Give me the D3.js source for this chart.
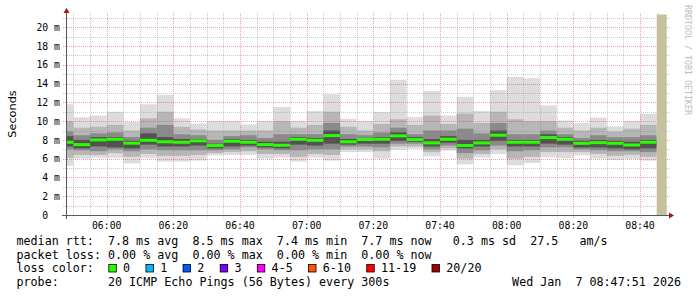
<!DOCTYPE html>
<html><head><meta charset="utf-8">
<script src="https://cdn.jsdelivr.net/npm/d3@7"></script>
<style>body{margin:0;background:#fff}svg{display:block}</style>
</head><body>
<svg id="c" width="697" height="297"></svg>
<script>
// ---- data ----
const barStart = ["05:45","05:50","05:55","06:00","06:05","06:10","06:15","06:20","06:25","06:30","06:35","06:40",
  "06:45","06:50","06:55","07:00","07:05","07:10","07:15","07:20","07:25","07:30","07:35","07:40",
  "07:45","07:50","07:55","08:00","08:05","08:10","08:15","08:20","08:25","08:30","08:35","08:40"];
const median = [7.75,7.5,8.0,8.07,7.65,7.96,7.8,7.75,7.9,7.4,7.86,7.75,7.5,7.43,8.07,7.96,8.46,7.8,8.04,8.07,8.43,8.04,7.68,8.07,7.4,7.68,8.5,7.75,7.75,8.25,8.07,7.64,7.71,7.64,7.46,7.75];
const pingMax = [11.8,10.4,10.6,11.0,9.9,11.8,12.8,10.3,9.75,10.0,10.0,9.65,10.0,11.5,10.0,11.07,12.86,10.25,10.0,10.96,14.4,10.43,13.2,10.6,12.6,11.07,13.3,14.7,14.57,11.68,10.07,9.8,10.36,9.46,10.0,10.8];
const pingMin = [5.25,6.0,6.1,6.1,5.5,6.1,5.7,5.7,5.8,6.35,6.4,6.4,6.0,6.14,5.7,6.14,5.79,6.7,6.7,6.0,6.96,7.07,6.25,6.86,5.4,6.14,6.5,5.3,5.54,6.14,6.07,6.36,6.0,5.86,5.96,5.79];
const q2Hi = [10.0,9.3,9.4,9.6,9.0,10.3,11.0,9.4,9.1,9.0,9.0,9.0,9.0,10.0,9.3,9.6,11.0,9.4,9.0,9.7,10.2,9.6,10.6,9.7,10.8,9.8,11.0,10.2,10.0,10.0,9.3,9.0,9.3,8.9,9.2,9.6];
const q2Lo = [6.1,6.4,6.4,6.6,6.2,6.5,6.3,6.3,6.4,6.6,6.7,6.8,6.5,6.5,6.2,6.5,6.4,7.0,7.0,6.8,7.3,7.3,6.7,7.1,6.0,6.5,7.0,6.0,6.2,6.7,6.7,6.7,6.5,6.3,6.4,6.2];
const q3Hi = [8.9,8.5,8.7,8.8,8.3,9.3,9.6,8.6,8.5,8.0,8.4,8.5,8.2,8.6,8.6,8.6,9.8,8.6,8.5,8.8,9.3,8.6,9.0,9.0,9.2,8.7,9.8,8.6,8.6,9.0,8.6,8.2,8.5,8.3,8.3,8.5];
const q3Lo = [7.0,6.9,6.8,7.0,6.8,7.0,6.9,6.9,6.9,6.9,7.0,7.2,7.0,6.9,6.9,7.0,7.0,7.3,7.3,7.2,7.6,7.6,7.0,7.4,6.6,6.9,7.4,6.8,6.9,7.2,7.2,7.0,6.9,6.8,6.8,6.7];
const coreHi = [8.4,8.0,8.3,8.3,7.9,8.7,8.3,8.1,8.1,7.6,8.1,8.0,7.8,7.8,8.3,8.2,9.0,8.1,8.2,8.3,8.8,8.3,8.1,8.4,8.0,8.0,9.0,8.0,8.0,8.6,8.3,7.9,8.0,7.9,7.8,8.0];
const coreLo = [7.3,7.1,7.3,7.2,7.1,7.5,7.3,7.3,7.4,7.1,7.3,7.4,7.2,7.1,7.5,7.4,7.6,7.5,7.6,7.6,7.9,7.8,7.3,7.7,7.1,7.3,7.9,7.3,7.3,7.6,7.5,7.2,7.2,7.1,7.0,7.1];
const stepMinutes = 5;
const viewStart = "05:48", viewEnd = "08:48", unknownStart = "08:45";
const xTickLabels = ["06:00","06:20","06:40","07:00","07:20","07:40","08:00","08:20","08:40"];
const yTickValues = [0,2,4,6,8,10,12,14,16,18,20];
const yTickLabels = ["0  ","2 m","4 m","6 m","8 m","10 m","12 m","14 m","16 m","18 m","20 m"];
const legendLines = [
  "median rtt:  7.8 ms avg  8.5 ms max  7.4 ms min  7.7 ms now   0.3 ms sd  27.5   am/s",
  "packet loss: 0.00 % avg  0.00 % max  0.00 % min  0.00 % now",
  "loss color:",
  "probe:       20 ICMP Echo Pings (56 Bytes) every 300s"
];
const lossLabels = ["0","1","2","3","4-5","6-10","11-19","20/20"];
const lossColors = ["#26ff00","#00b8ff","#0059ff","#7e00ff","#ff00ff","#ff5500","#ff0000","#a10000"];
const timestamp = "Wed Jan  7 08:47:51 2026";

// ---- drawing ----
const svg = d3.select("#c");
const T = s => { const [h,m] = s.split(":").map(Number); return new Date(Date.UTC(2026,0,7,h,m)); };
const x = d3.scaleUtc().domain([T(viewStart), T(viewEnd)]).range([66.7, 666.7]);
const y = d3.scaleLinear().domain([0, 21.5]).range([215, 13.2]);
const mono = "'DejaVu Sans Mono', monospace";

const bars = barStart.map((s,i) => {
  const t0 = T(s), t1 = new Date(+t0 + stepMinutes*60000);
  return {x0: Math.max(x(t0), x.range()[0]), x1: x(t1), i};
});

const layers = [
  {lo: pingMin, hi: pingMax, c: "#dcdcdc"},
  {lo: q2Lo, hi: q2Hi, c: "#b6b6b6"},
  {lo: q3Lo, hi: q3Hi, c: "#8a8a8a"},
  {lo: coreLo, hi: coreHi, c: "#525252"}
];
const gS = svg.append("g");
layers.forEach(L => {
  gS.selectAll(null).data(bars).enter().append("rect")
    .attr("x", d => d.x0).attr("width", d => d.x1 - d.x0)
    .attr("y", d => y(L.hi[d.i])).attr("height", d => y(L.lo[d.i]) - y(L.hi[d.i]))
    .attr("fill", L.c);
});

// grid
const gG = svg.append("g");
const minorY = d3.range(1, 22);
gG.selectAll(null).data(minorY).enter().append("line")
  .attr("x1", 63).attr("x2", 670).attr("y1", d => Math.round(y(d))+0.5).attr("y2", d => Math.round(y(d))+0.5)
  .attr("stroke", d => d % 2 === 0 ? "rgba(215,60,60,0.45)" : "rgba(128,128,128,0.4)")
  .attr("stroke-dasharray", "1,1");
const minorX = x.ticks(d3.utcMinute.every(5));
gG.selectAll(null).data(minorX).enter().append("line")
  .attr("x1", d => Math.round(x(d))+0.5).attr("x2", d => Math.round(x(d))+0.5)
  .attr("y1", 13).attr("y2", 218)
  .attr("stroke", d => d.getUTCMinutes() % 20 === 0 ? "rgba(215,60,60,0.45)" : "rgba(128,128,128,0.4)")
  .attr("stroke-dasharray", "1,1");

// unknown (tan) area
svg.append("rect").attr("x", x(T(unknownStart))).attr("width", x(T(viewEnd)) - x(T(unknownStart)))
  .attr("y", 14.5).attr("height", 215 - 14.5).attr("fill", "#c5c19e");

// median
svg.append("g").selectAll(null).data(bars).enter().append("rect")
  .attr("x", d => d.x0).attr("width", d => d.x1 - d.x0)
  .attr("y", d => y(median[d.i]) - 1.5).attr("height", 3)
  .attr("fill", lossColors[0]);

// axes
svg.append("line").attr("x1", 66.5).attr("x2", 66.5).attr("y1", 219).attr("y2", 12).attr("stroke", "#5a5a5a");
svg.append("line").attr("x1", 62).attr("x2", 670).attr("y1", 215.5).attr("y2", 215.5).attr("stroke", "#5a5a5a");
svg.append("path").attr("d", "M63.5,13 L66.5,8 L69.5,13 Z").attr("fill", "#9e1a1a");
svg.append("path").attr("d", "M669,212.5 L674,215.5 L669,218.5 Z").attr("fill", "#9e1a1a");

// axis labels
svg.append("g").selectAll(null).data(yTickValues).enter().append("text")
  .attr("x", 60).attr("y", d => y(d) + 3.6).attr("text-anchor", "end")
  .style("white-space", "pre").attr("font-family", mono).attr("font-size", 9.8).attr("fill", "#000")
  .text((d,i) => yTickLabels[i]);
svg.append("g").selectAll(null).data(xTickLabels).enter().append("text")
  .attr("x", d => x(T(d))).attr("y", 228.6).attr("text-anchor", "middle")
  .attr("font-family", mono).attr("font-size", 9.8).attr("fill", "#000").text(d => d);

svg.append("text").attr("transform", "translate(15.5,114) rotate(-90)").attr("text-anchor", "middle")
  .attr("font-family", "'DejaVu Sans', sans-serif").attr("font-size", 11.3).attr("fill", "#000").text("Seconds");
svg.append("text").attr("transform", "translate(685,5) rotate(90)").attr("text-anchor", "start")
  .attr("font-family", mono).attr("font-size", 8.3).attr("fill", "#bdbdbd").text("RRDTOOL / TOBI OETIKER");

// legend
const lg = svg.append("g").attr("font-family", mono).attr("font-size", 11.7).attr("fill", "#000");
const baselines = [245, 258.7, 272.4, 286];
legendLines.forEach((s,i) => {
  lg.append("text").attr("x", 16.5).attr("y", baselines[i]).style("white-space", "pre").text(s);
});
lg.append("text").attr("x", 681).attr("y", baselines[3]).attr("text-anchor", "end").style("white-space", "pre").text(timestamp);
let bx = 108.3;
const cw = 7.03;
lossLabels.forEach((lab, i) => {
  lg.append("rect").attr("x", bx + 0.5).attr("y", 264.5).attr("width", 7.5).attr("height", 7.5)
    .attr("fill", lossColors[i]).attr("stroke", "#000").attr("stroke-width", 0.8);
  lg.append("text").attr("x", bx + 14.8).attr("y", baselines[2]).text(lab);
  bx = bx + 14.8 + lab.length * cw + 15.3;
});
</script>
</body></html>
